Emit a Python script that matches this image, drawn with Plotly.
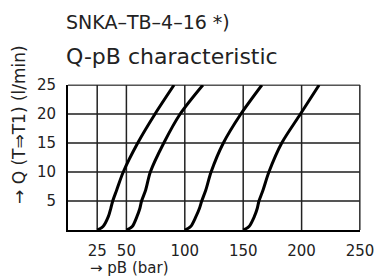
import plotly.graph_objects as go

# Data
q_vals = [0, 0.6, 2.3, 3.7, 5, 6.9, 10, 15, 20, 25]
p_curve1 = [25, 30, 34.5, 36.6, 38.3, 41.7, 47.3, 59.7, 74.5, 90.8]
p_curve2 = [50, 55, 59, 61.5, 63, 66.5, 70.5, 82, 96, 115.5]
p_curve3 = [100, 105, 109.5, 112.5, 114.5, 118, 122.5, 133, 148, 166]
p_curve4 = [150, 155, 159.5, 162, 163.5, 167, 172, 183, 199, 215]

x_ticks = [25, 50, 100, 150, 200, 250]
y_ticks = [5, 10, 15, 20, 25]
x_range = [0, 250]
y_range = [0, 25]

title_line1 = "SNKA–TB–4–16 *)"
title_line2 = "Q-pB characteristic"
x_title = "→ pB (bar)"
y_title = "→ Q (T⇒T1) (l/min)"

FONT = "DejaVu Sans"
TXT = "#222222"
VGRID = "#222222"
HGRID = "#555555"
BORDER = "#888888"

fig = go.Figure()

# grid lines as traces on the axes' own scales, at the tick values
vx, vy = [], []
for v in x_ticks:
    vx += [v, v, None]
    vy += [y_range[0], y_range[1], None]
hx, hy = [], []
for v in y_ticks:
    hx += [x_range[0], x_range[1], None]
    hy += [v, v, None]
fig.add_trace(go.Scatter(x=hx, y=hy, mode="lines",
                         line=dict(color=HGRID, width=2),
                         showlegend=False, hoverinfo="skip"))
fig.add_trace(go.Scatter(x=vx, y=vy, mode="lines",
                         line=dict(color=VGRID, width=1.5),
                         showlegend=False, hoverinfo="skip"))

for p in [p_curve1, p_curve2, p_curve3, p_curve4]:
    fig.add_trace(go.Scatter(
        x=p, y=q_vals, mode="lines",
        line=dict(color="black", width=3, shape="spline", smoothing=0.8),
        showlegend=False, hoverinfo="skip"))

L, R, T, B = 68, 16, 85, 50
W, H = 376, 280
pw = W - L - R
ph = H - T - B

def px(xp):
    return (xp - L) / pw

def py(yp):
    return (H - B - yp) / ph

fig.update_layout(
    template="none",
    width=W, height=H,
    margin=dict(l=L, r=R, t=T, b=B, pad=0),
    paper_bgcolor="white", plot_bgcolor="white",
    font=dict(family=FONT, size=15, color=TXT),
    xaxis=dict(range=x_range, tickmode="array", tickvals=x_ticks,
               ticktext=[str(v) for v in x_ticks],
               showgrid=False,
               showline=True, linecolor="black", linewidth=2,
               zeroline=False, ticks="", ticklabelstandoff=6,
               tickfont=dict(family=FONT, size=15, color=TXT)),
    yaxis=dict(range=y_range, tickmode="array", tickvals=y_ticks,
               ticktext=[str(v) for v in y_ticks],
               showgrid=False,
               showline=True, linecolor="black", linewidth=2,
               zeroline=False, ticks="", ticklabelstandoff=7,
               tickfont=dict(family=FONT, size=15, color=TXT)),
    shapes=[
        dict(type="line", xref="paper", yref="paper", x0=0, x1=1, y0=1, y1=1,
             layer="below", line=dict(color=BORDER, width=1.5)),
        dict(type="line", xref="paper", yref="paper", x0=1, x1=1, y0=0, y1=1,
             layer="below", line=dict(color=BORDER, width=2)),
    ],
    annotations=[
        dict(text=title_line1, xref="paper", yref="paper", x=px(64), y=py(22),
             xanchor="left", yanchor="middle", showarrow=False,
             font=dict(family=FONT, size=19, color=TXT)),
        dict(text=title_line2, xref="paper", yref="paper", x=px(64), y=py(56),
             xanchor="left", yanchor="middle", showarrow=False,
             font=dict(family=FONT, size=22, color=TXT)),
        dict(text=x_title, xref="paper", yref="paper", x=px(129), y=py(268),
             xanchor="center", yanchor="middle", showarrow=False,
             font=dict(family=FONT, size=15, color=TXT)),
        dict(text=y_title, xref="paper", yref="paper", x=px(19), y=py(125),
             xanchor="center", yanchor="middle", showarrow=False, textangle=-90,
             font=dict(family=FONT, size=17, color=TXT)),
    ],
)

fig.write_html("out.html", config={"displayModeBar": False, "staticPlot": True},
               post_script="document.body.style.margin='0';document.body.style.padding='0';")
